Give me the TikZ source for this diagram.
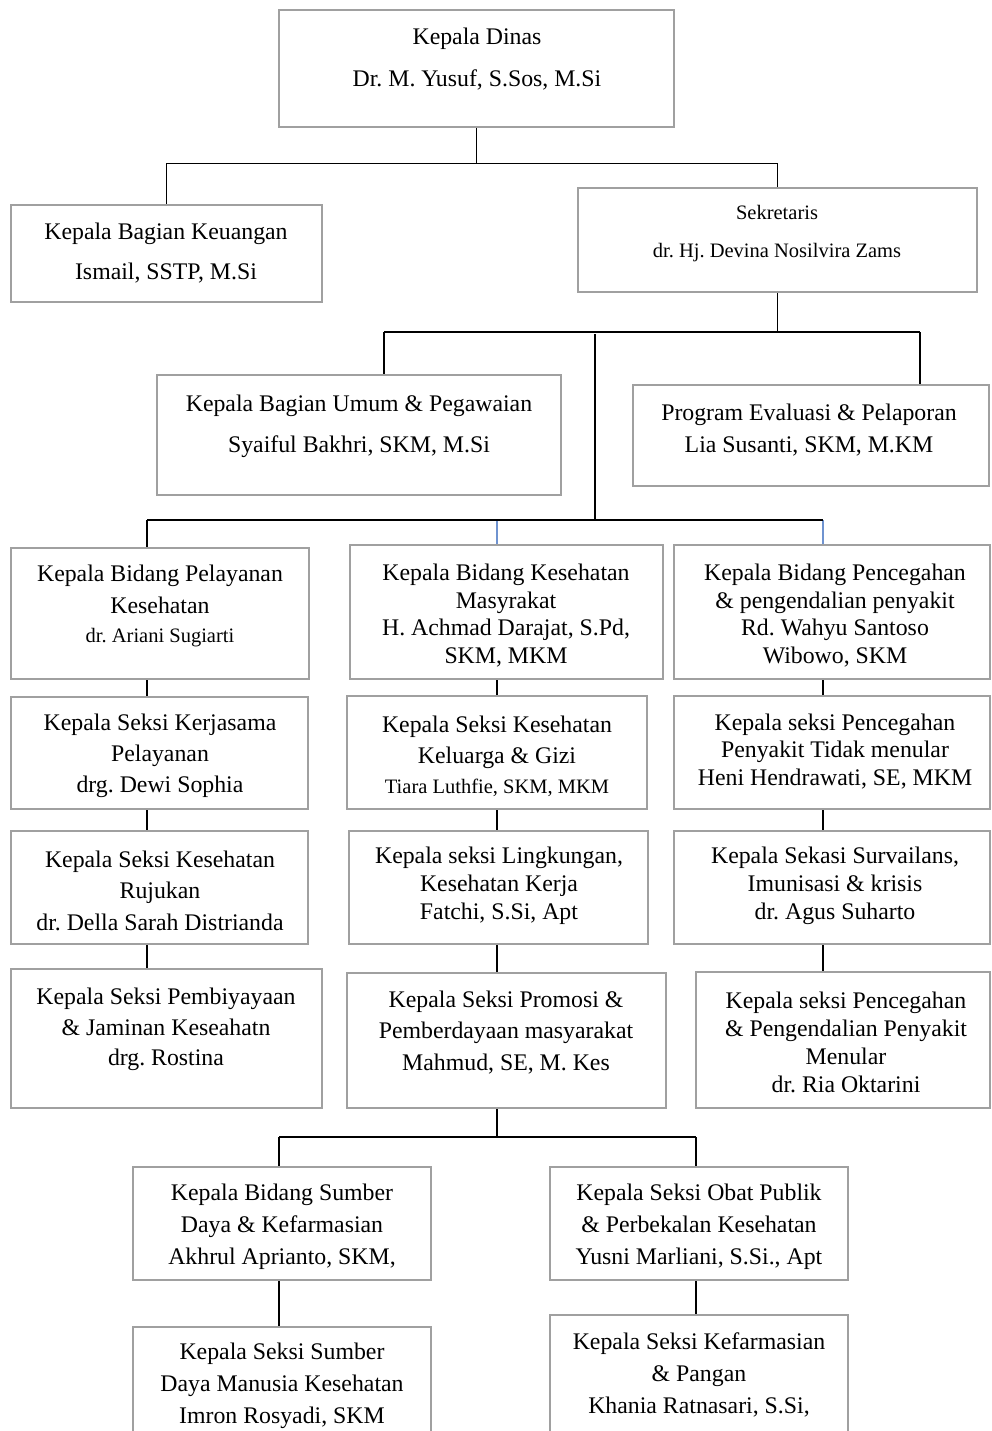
\documentclass[tikz,border=0pt]{standalone}
\usepackage{fontspec}
\setmainfont{Liberation Serif}
\frenchspacing
\newcommand{\myfs}[2]{\fontsize{#1}{#2}\selectfont\frenchspacing}
\newcommand{\orgbox}[5]{\node[box, minimum width={#4-#2}, minimum height={#5-#3}] (#1) at ({(#2+#4)/2},{(#3+#5)/2}) {};}
\definecolor{boxgray}{RGB}{160,160,160}
\definecolor{connblue}{RGB}{111,147,208}
\tikzset{
  box/.style={draw=boxgray, line width=2.5pt, rectangle, inner sep=0pt},
  conn/.style={draw=black, line width=1.2pt},
  bconn/.style={draw=connblue, line width=1.5pt},
  txt/.style={inner sep=0pt, align=center, text=black, yshift=-2pt},
}
\begin{document}
\begin{tikzpicture}[x=1pt,y=-1pt]
\clip (0,0) rectangle (991,1431);
\fill[white] (0,0) rectangle (991,1431);

% boxes
\orgbox{dinas}{279}{10}{674}{127}
\orgbox{keu}{11}{205}{322}{302}
\orgbox{sek}{578}{188}{977}{292}
\orgbox{umum}{157}{375}{561}{495}
\orgbox{prog}{633}{385}{989}{486}
\orgbox{bp}{11}{548}{309}{679}
\orgbox{bk}{350}{545}{663}{679}
\orgbox{bc}{674}{545}{990}{679}
\orgbox{sa}{11}{697}{308}{809}
\orgbox{sb}{347}{696}{647}{809}
\orgbox{sc}{674}{696}{990}{809}
\orgbox{sd}{11}{831}{308}{944}
\orgbox{se}{349}{831}{648}{944}
\orgbox{sf}{674}{831}{990}{944}
\orgbox{sg}{11}{969}{322}{1108}
\orgbox{sh}{347}{973}{666}{1108}
\orgbox{si}{696}{972}{990}{1108}
\orgbox{bsd}{133}{1167}{431}{1280}
\orgbox{obat}{550}{1167}{848}{1280}
\orgbox{sdm}{133}{1327}{431}{1480}
\orgbox{farm}{550}{1315}{848}{1480}

% texts
\node[txt, font=\myfs{23.8}{42}] (tdinas) at (477,57) {Kepala Dinas\\Dr. M. Yusuf, S.Sos, M.Si};
\node[txt, font=\myfs{23.8}{40}] (tkeu) at (166,251) {Kepala Bagian Keuangan\\Ismail, SSTP, M.Si};
\node[txt, font=\myfs{20.5}{38}] (tsek) at (777,232) {Sekretaris\\dr. Hj. Devina Nosilvira Zams};
\node[txt, font=\myfs{23.8}{41}] (tumum) at (359,424.5) {Kepala Bagian Umum \& Pegawaian\\Syaiful Bakhri, SKM, M.Si};
\node[txt, font=\myfs{23.8}{32}] (tprog) at (809,428) {Program Evaluasi \& Pelaporan\\Lia Susanti, SKM, M.KM};

\node[txt, font=\myfs{23.8}{32}] (tbp) at (160,603.5) {Kepala Bidang Pelayanan\\Kesehatan\\[-3pt]{\myfs{20.5}{29}dr. Ariani Sugiarti}};
\node[txt, font=\myfs{23.8}{27.7}] (tbk) at (506,613.5) {Kepala Bidang Kesehatan\\Masyrakat\\H. Achmad Darajat, S.Pd,\\SKM, MKM};
\node[txt, font=\myfs{23.8}{27.7}] (tbc) at (835,613.5) {Kepala Bidang Pencegahan\\\& pengendalian penyakit\\Rd. Wahyu Santoso\\Wibowo, SKM};

\node[txt, font=\myfs{23.8}{31}] (tsa) at (160,754) {Kepala Seksi Kerjasama\\Pelayanan\\drg. Dewi Sophia};
\node[txt, font=\myfs{23.8}{31}] (tsb) at (497,754) {Kepala Seksi Kesehatan\\Keluarga \& Gizi\\[-1pt]{\myfs{20.5}{29}Tiara Luthfie, SKM, MKM}};
\node[txt, font=\myfs{23.8}{27.5}] (tsc) at (835,749.5) {Kepala seksi Pencegahan\\Penyakit Tidak menular\\Heni Hendrawati, SE, MKM};

\node[txt, font=\myfs{23.8}{31.5}] (tsd) at (160,888.5) {Kepala Seksi Kesehatan\\Rujukan\\dr. Della Sarah Distrianda};
\node[txt, font=\myfs{23.8}{28}] (tse) at (499,884) {Kepala seksi Lingkungan,\\Kesehatan Kerja\\Fatchi, S.Si, Apt};
\node[txt, font=\myfs{23.8}{28}] (tsf) at (835,884) {Kepala Sekasi Survailans,\\Imunisasi \& krisis\\dr. Agus Suharto};

\node[txt, font=\myfs{23.8}{30.5}] (tsg) at (166,1027.5) {Kepala Seksi Pembiyayaan\\\& Jaminan Keseahatn\\drg. Rostina};
\node[txt, font=\myfs{23.8}{31.5}] (tsh) at (506,1030.5) {Kepala Seksi Promosi \&\\Pemberdayaan masyarakat\\Mahmud, SE, M. Kes};
\node[txt, font=\myfs{23.8}{28}] (tsi) at (846,1040) {Kepala seksi Pencegahan\\\& Pengendalian Penyakit\\Menular\\dr. Ria Oktarini};

\node[txt, font=\myfs{23.8}{32}] (tbsd) at (282,1225) {Kepala Bidang Sumber\\Daya \& Kefarmasian\\Akhrul Aprianto, SKM,};
\node[txt, font=\myfs{23.8}{32}] (tobat) at (699,1225) {Kepala Seksi Obat Publik\\\& Perbekalan Kesehatan\\Yusni Marliani, S.Si., Apt};
\node[txt, font=\myfs{23.8}{32}] (tsdm) at (282,1384) {Kepala Seksi Sumber\\Daya Manusia Kesehatan\\Imron Rosyadi, SKM};
\node[txt, font=\myfs{23.8}{32}] (tfarm) at (699,1373) {Kepala Seksi Kefarmasian\\\& Pangan\\Khania Ratnasari, S.Si,};

% connectors: top
\draw[conn] (dinas.south) -- ++(0,35) coordinate (j1);
\draw[conn] (keu.north) |- (j1) -| (sek.north);

% second level
\draw[conn] (sek.south) -- ++(0,40) coordinate (j2);
\coordinate (j2a) at (384,332);
\coordinate (j2b) at (920,332);
\coordinate (j2c) at (595,334);
\draw[conn] (j2a) -- (j2b);
\draw[conn] (j2a) -- (j2a |- umum.north);
\draw[conn] (j2b) -- (j2b |- prog.north);

% bidang bus
\coordinate (c1) at (147,520);
\coordinate (c2) at (497,520);
\coordinate (c3) at (823,520);
\draw[conn] (j2c) -- (j2c |- c1);
\draw[bconn] (c2) -- (c2 |- bk.north);
\draw[bconn] (c3) -- (c3 |- bc.north);
\draw[conn] (c1) -- (c3);
\draw[conn] (c1) -- (c1 |- bp.north);

% columns
\draw[conn] (c1 |- bp.south) -- (c1 |- sa.north);
\draw[conn] (c1 |- sa.south) -- (c1 |- sd.north);
\draw[conn] (c1 |- sd.south) -- (c1 |- sg.north);
\draw[conn] (c2 |- bk.south) -- (c2 |- sb.north);
\draw[conn] (c2 |- sb.south) -- (c2 |- se.north);
\draw[conn] (c2 |- se.south) -- (c2 |- sh.north);
\draw[conn] (c3 |- bc.south) -- (c3 |- sc.north);
\draw[conn] (c3 |- sc.south) -- (c3 |- sf.north);
\draw[conn] (c3 |- sf.south) -- (c3 |- si.north);

% bottom
\draw[conn] (c2 |- sh.south) -- ++(0,29) coordinate (j4);
\coordinate (d1) at (279,1137);
\coordinate (d2) at (696,1137);
\draw[conn] (d1) -- (d2);
\draw[conn] (d1) -- (d1 |- bsd.north);
\draw[conn] (d2) -- (d2 |- obat.north);
\draw[conn] (d1 |- bsd.south) -- (d1 |- sdm.north);
\draw[conn] (d2 |- obat.south) -- (d2 |- farm.north);
\end{tikzpicture}
\end{document}
